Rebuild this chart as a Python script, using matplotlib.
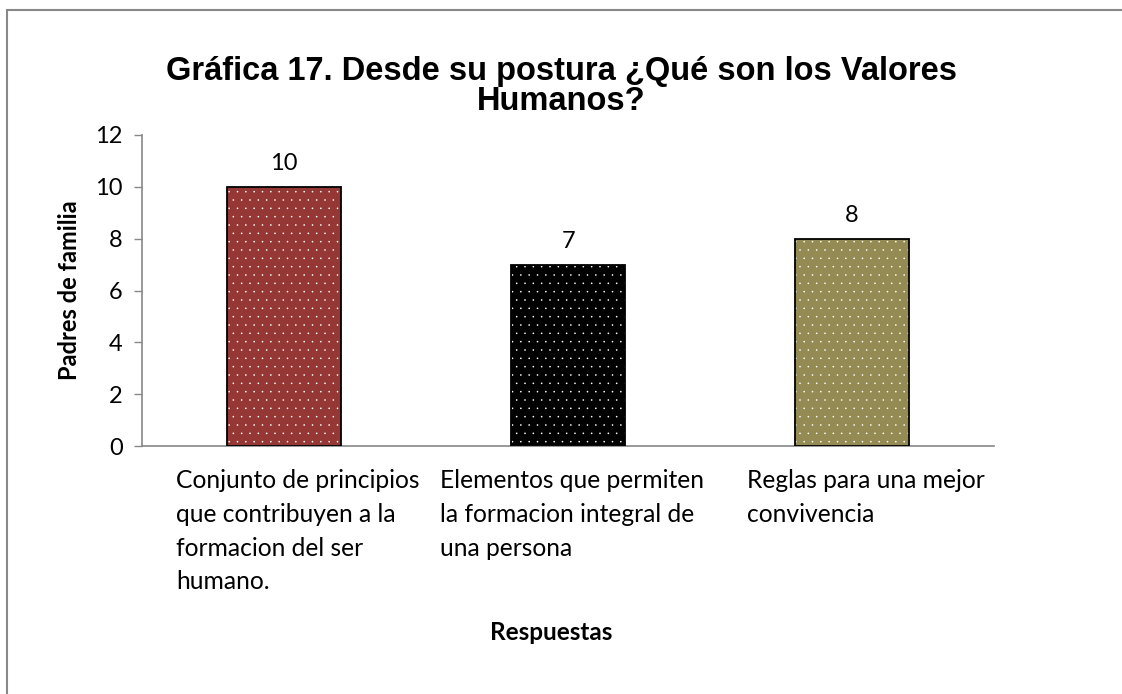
import matplotlib.pyplot as plt
from matplotlib.patches import Rectangle

categories = [
    'Conjunto de principios\nque contribuyen a la\nformacion del ser\nhumano.',
    'Elementos que permiten\nla formacion integral de\nuna persona',
    'Reglas para una mejor\nconvivencia',
]
values = [10, 7, 8]
colors = ['#953735', '#000000', '#948A54']

plt.rcParams['font.family'] = ['Lato', 'DejaVu Sans']
plt.rcParams['hatch.linewidth'] = 0.0

fig = plt.figure(figsize=(11.22, 6.94), dpi=100)
ax = fig.add_axes([0.1266, 0.3573, 0.7594, 0.4482])

x = list(range(len(values)))
# filled bars with white dot pattern, then a black outline on top
ax.bar(x, values, width=0.4, color=colors, edgecolor='white', hatch='..', linewidth=0, zorder=2)
ax.bar(x, values, width=0.4, fill=False, edgecolor='black', linewidth=1.3, zorder=3)

for xi, v in zip(x, values):
    ax.annotate(str(v), (xi, v), xytext=(0, 9), textcoords='offset points',
                ha='center', va='bottom', fontsize=17)

ax.set_xlim(-0.5, 2.5)
ax.set_ylim(0, 12)
ax.set_yticks(range(0, 13, 2))
ax.set_xticks(x)
ax.set_xticklabels([])
ax.tick_params(axis='y', labelsize=17, colors='#888888', labelcolor='black', length=6, width=1, pad=8)
ax.tick_params(axis='x', length=0)
for s in ['top', 'right']:
    ax.spines[s].set_visible(False)
for s in ['left', 'bottom']:
    ax.spines[s].set_color('#888888')
    ax.spines[s].set_linewidth(1.2)

offsets = [0.048, 0.014, 0.049]
for xi, lab, off in zip(x, categories, offsets):
    ax.text(xi + off, -0.075, lab, transform=ax.get_xaxis_transform(), ha='center', va='top',
            multialignment='left', fontsize=17.7, linespacing=1.56)

ax.set_ylabel('Padres de familia', fontsize=17, fontweight='bold', labelpad=10)
fig.text(0.491, 0.089, 'Respuestas', ha='center', va='center', fontsize=17.5, fontweight='bold')

fig.text(0.5, 0.875, 'Gráfica 17. Desde su postura ¿Qué son los Valores\nHumanos?',
         ha='center', va='center', fontsize=23.5, fontweight='bold',
         family=['Liberation Sans', 'DejaVu Sans'], linespacing=0.95)

fig.patches.append(Rectangle((7 / 1122, -0.1), 1.2, 1 - 10 / 694 + 0.1, transform=fig.transFigure,
                             fill=False, edgecolor='#888888', linewidth=1.5))

fig.savefig('out.png', dpi=100)
